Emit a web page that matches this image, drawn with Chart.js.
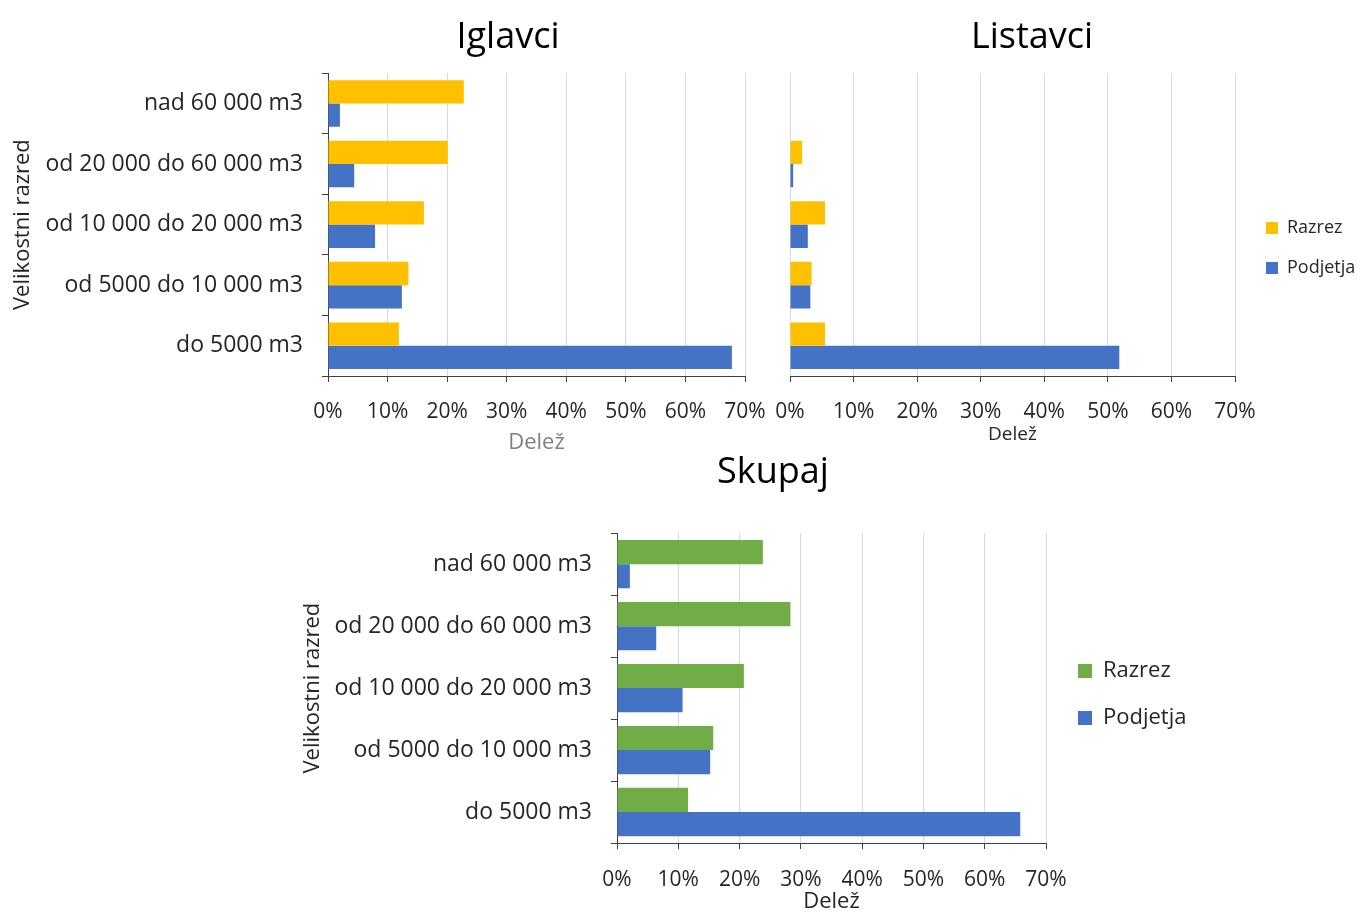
<!DOCTYPE html>
<html>
<head>
<meta charset="utf-8">
<title>Velikostni razred</title>
<script src="https://cdn.jsdelivr.net/npm/chart.js@4.4.1/dist/chart.umd.min.js"></script>
<style>
  html, body { margin: 0; padding: 0; background: #fff; overflow: hidden; }
  body { width: 1358px; height: 911px; position: relative; }
  canvas { position: absolute; }
</style>
</head>
<body>
<canvas id="chart-igl" width="784" height="460" style="left:0;top:0"></canvas>
<canvas id="chart-lis" width="652" height="460" style="left:706px;top:0"></canvas>
<canvas id="chart-sku" width="966" height="467" style="left:290px;top:448px"></canvas>
<script>
/* ── Data ── */
const categories = ["nad 60 000 m3", "od 20 000 do 60 000 m3", "od 10 000 do 20 000 m3", "od 5000 do 10 000 m3", "do 5000 m3"];
const seriesNames = ["Razrez", "Podjetja"];
const iglavciRazrez = [22.8, 20.1, 16.1, 13.5, 11.9];
const iglavciPodjetja = [2.0, 4.4, 7.9, 12.4, 67.8];
const listavciRazrez = [0, 1.9, 5.5, 3.4, 5.5];
const listavciPodjetja = [0, 0.5, 2.8, 3.2, 51.8];
const skupajRazrez = [23.8, 28.3, 20.7, 15.7, 11.6];
const skupajPodjetja = [2.1, 6.4, 10.7, 15.2, 65.8];
const xTicks = [0, 10, 20, 30, 40, 50, 60, 70];

const YELLOW = "#FFC000";
const GREEN = "#70AD47";
const BLUE = "#4472C4";
const TEXT = "#262626";
const AXIS = "#404040";
const GRID = "#d9d9d9";

Chart.defaults.font.family = "'Open Sans', sans-serif";

/* ── moves title and legend to fixed spots on the canvas ── */
const placeBoxes = {
  id: "placeBoxes",
  afterLayout(chart, args, opts) {
    const tb = chart.titleBlock;
    if (tb && opts.titleX !== undefined) {
      const half = (tb.right - tb.left) / 2;
      tb.left = opts.titleX - half;
      tb.right = opts.titleX + half;
    }
    const lg = chart.legend;
    if (lg && lg.options.display && opts.legendX !== undefined) {
      const pad = lg.options.labels.padding;
      const w = lg.width, h = lg.height;
      lg.left = opts.legendX - pad;
      lg.top = opts.legendY - pad;
      lg.right = lg.left + w;
      lg.bottom = lg.top + h;
    }
  },
};

function makeChart(id, o) {
  return new Chart(document.getElementById(id), {
    type: "bar",
    data: {
      labels: categories,
      datasets: [
        { label: seriesNames[0], data: o.razrez, backgroundColor: o.razrezColor, borderWidth: 0 },
        { label: seriesNames[1], data: o.podjetja, backgroundColor: BLUE, borderWidth: 0 },
      ],
    },
    options: {
      indexAxis: "y",
      responsive: false,
      animation: false,
      layout: { padding: o.padding },
      datasets: { bar: { categoryPercentage: o.catPct, barPercentage: 1 } },
      plugins: {
        title: {
          display: true,
          text: o.title,
          color: "#000",
          font: { size: 36, weight: "normal" },
          padding: o.titlePad,
        },
        legend: o.legend
          ? {
              display: true,
              position: "chartArea",
              align: "start",
              labels: {
                color: TEXT,
                font: { size: o.legend.size },
                boxWidth: o.legend.box,
                boxHeight: o.legend.box,
                padding: o.legend.pad,
              },
            }
          : { display: false },
        tooltip: { enabled: false },
        placeBoxes: {
          titleX: o.titleX,
          legendX: o.legend ? o.legend.x : undefined,
          legendY: o.legend ? o.legend.y : undefined,
        },
      },
      scales: {
        x: {
          min: 0,
          max: 70,
          afterBuildTicks: (s) => { s.ticks = xTicks.map((v) => ({ value: v })); },
          afterFit: (s) => { s.height = o.xHeight; },
          border: { color: AXIS, width: 1 },
          grid: { color: GRID, tickColor: AXIS, tickLength: 6, lineWidth: 1 },
          ticks: { color: TEXT, font: { size: 21 }, padding: o.tickPad, maxRotation: 0, autoSkip: false, callback: (v) => v + "%" },
          title: {
            display: true,
            text: "Delež",
            color: o.xTitleColor,
            font: { size: o.xTitleSize },
            padding: { top: 0, bottom: o.xTitlePad },
          },
        },
        y: o.showY
          ? {
              afterFit: (s) => { s.width = o.yWidth; },
              border: { color: AXIS, width: 1 },
              grid: { drawOnChartArea: false, color: AXIS, tickColor: AXIS, tickLength: 6 },
              ticks: { color: TEXT, font: { size: 23 }, padding: 19 },
              title: {
                display: true,
                text: "Velikostni razred",
                color: TEXT,
                font: { size: 22 },
                padding: { top: 10, bottom: 0 },
              },
            }
          : { display: false },
      },
    },
    plugins: [placeBoxes],
  });
}

/* ── Iglavci ── */
makeChart("chart-igl", {
  title: "Iglavci",
  titleX: 508,
  titlePad: { top: 16, bottom: 14 },
  razrez: iglavciRazrez,
  podjetja: iglavciPodjetja,
  razrezColor: YELLOW,
  padding: { left: 0, right: 39, top: 0, bottom: 0 },
  catPct: 0.77,
  showY: true,
  yWidth: 328,
  xHeight: 84,
  tickPad: 17,
  xTitleColor: "#7f7f7f",
  xTitleSize: 22,
  xTitlePad: 4,
  legend: false,
});

/* ── Listavci ── */
makeChart("chart-lis", {
  title: "Listavci",
  titleX: 326,
  titlePad: { top: 16, bottom: 14 },
  razrez: listavciRazrez,
  podjetja: listavciPodjetja,
  razrezColor: YELLOW,
  padding: { left: 84, right: 123, top: 0, bottom: 0 },
  catPct: 0.77,
  showY: false,
  xHeight: 84,
  tickPad: 17,
  xTitleColor: TEXT,
  xTitleSize: 19,
  xTitlePad: 14,
  legend: { x: 560, y: 219, size: 18, box: 12, pad: 22 },
});

/* ── Skupaj ── */
makeChart("chart-sku", {
  title: "Skupaj",
  titleX: 483,
  titlePad: { top: 3, bottom: 39 },
  razrez: skupajRazrez,
  podjetja: skupajPodjetja,
  razrezColor: GREEN,
  padding: { left: 0, right: 210, top: 0, bottom: 0 },
  catPct: 0.78,
  showY: true,
  yWidth: 327,
  xHeight: 72,
  tickPad: 18,
  xTitleColor: TEXT,
  xTitleSize: 22,
  xTitlePad: 0,
  legend: { x: 788, y: 212, size: 22, box: 14, pad: 25 },
});
</script>
</body>
</html>
